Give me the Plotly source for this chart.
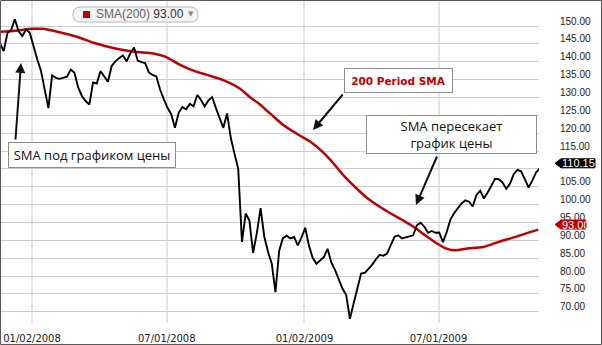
import pandas as pd
import plotly.graph_objects as go

# Close prices sampled every 5 calendar days from 2007-11-20
close = [
    145.1, 143.0, 148.0, 148.9, 151.9, 148.5, 147.2, 149.0, 148.1, 144.0,
    140.7, 137.5, 132.1, 127.0, 136.2, 135.5, 135.2, 135.6, 135.8, 137.8,
    136.9, 132.8, 130.4, 129.0, 128.0, 134.2, 133.9, 137.4, 135.7, 134.4,
    138.8, 140.1, 141.0, 141.8, 140.1, 142.3, 144.0, 140.3, 139.9, 139.6,
    137.0, 136.3, 135.9, 132.2, 129.5, 127.1, 125.3, 121.5, 125.7, 127.3,
    126.7, 128.2, 127.5, 130.7, 129.3, 127.5, 129.2, 130.1, 127.0, 124.1,
    121.5, 125.5, 118.7, 114.2, 110.0, 89.5, 97.5, 95.5, 86.5, 92.0,
    99.0, 91.0, 86.8, 83.5, 75.5, 87.1, 90.6, 91.3, 90.5, 90.9,
    88.6, 90.8, 93.5, 88.5, 85.1, 83.4, 84.4, 85.3, 87.6, 83.8,
    81.7, 79.1, 76.5, 74.7, 68.0, 72.3, 76.9, 80.7, 80.9, 82.0,
    83.2, 84.7, 85.9, 85.7, 86.3, 88.7, 91.0, 91.4, 90.5, 90.8,
    91.1, 91.4, 94.2, 94.9, 93.8, 92.1, 92.6, 92.1, 92.2, 89.5,
    92.3, 95.8, 97.6, 98.9, 100.3, 101.2, 100.8, 99.5, 102.7, 103.9,
    101.7, 103.4, 105.1, 107.2, 107.1, 106.2, 104.4, 105.8, 108.5, 109.7,
    109.3, 107.2, 104.8, 106.7, 109.0, 110.15,
]
close_dates = pd.date_range("2007-11-20", periods=len(close), freq="5D")

# 200-period simple moving average
sma_dates = [
    "2007-11-20", "2007-12-10", "2008-01-02", "2008-01-16", "2008-02-05",
    "2008-03-02", "2008-03-28", "2008-04-23", "2008-05-19", "2008-06-13",
    "2008-06-29", "2008-07-19", "2008-08-03", "2008-08-24", "2008-09-14",
    "2008-10-07", "2008-10-20", "2008-11-04", "2008-11-19", "2008-12-05",
    "2008-12-26", "2009-01-10", "2009-01-26", "2009-02-10", "2009-02-25",
    "2009-03-13", "2009-03-28", "2009-04-13", "2009-04-28", "2009-05-14",
    "2009-05-29", "2009-06-13", "2009-06-29", "2009-07-09", "2009-07-22",
    "2009-08-09", "2009-08-30", "2009-09-19", "2009-10-10", "2009-10-31",
    "2009-11-12",
]
sma = [
    148.4, 148.7, 149.2, 149.2, 148.4, 147.0, 145.1, 143.7, 142.8, 142.3,
    141.4, 139.1, 137.7, 136.3, 134.9, 132.5, 130.2, 127.9, 125.1, 122.2,
    119.4, 117.6, 114.8, 111.5, 107.8, 104.5, 101.7, 99.4, 97.5, 95.6,
    93.7, 91.4, 89.1, 87.9, 87.2, 87.7, 88.1, 89.5, 90.8, 92.2,
    93.00,
]

date_ticks = ["2008-01-02", "2008-07-01", "2009-01-02", "2009-07-01"]
date_labels = ["01/02/2008", "07/01/2008", "01/02/2009", "07/01/2009"]
price_ticks = list(range(70, 151, 5))

last_close = close[-1]
last_sma = sma[-1]

# the 110.00 label sits under the last-price tag
price_labels = ["" if v == 110 else f"{v:.2f}" for v in price_ticks]

W, H = 602, 345
ML, MR, MT, MB = 0, 63, 0, 22
PW, PH = W - ML - MR, H - MT - MB

RED = "#c00000"

fig = go.Figure()
fig.add_trace(go.Scatter(
    x=sma_dates, y=sma, mode="lines",
    line=dict(color=RED, width=2.5, shape="spline", smoothing=0.8),
    hoverinfo="skip",
))
fig.add_trace(go.Scatter(
    x=close_dates, y=close, mode="lines",
    line=dict(color="#000000", width=1.9),
    hoverinfo="skip",
))


def px_x(px):
    return (px - ML) / PW


def px_y(py):
    return 1 - (py - MT) / PH


shapes = []
annotations = []

# outer frame
shapes.append(dict(
    type="rect", xref="paper", yref="paper", xsizemode="pixel", ysizemode="pixel",
    xanchor=0, yanchor=1, x0=0.5, x1=W - 0.5, y0=-0.5, y1=-(H - 0.5),
    line=dict(color="#5a5a5a", width=1), fillcolor="rgba(0,0,0,0)", layer="above",
))


# price tags on the right axis
def price_tag(value, color, text, right):
    shapes.append(dict(
        type="path", xref="paper", yref="y", xsizemode="pixel", ysizemode="pixel",
        xanchor=1, yanchor=value,
        path=f"M16,5 L22,9.5 L{right},9.5 L{right},0.5 L22,0.5 Z",
        fillcolor=color, line=dict(color=color, width=1), layer="above",
    ))
    annotations.append(dict(
        x=1, y=value, xref="paper", yref="y", xanchor="left", yanchor="middle",
        xshift=21, yshift=5, text=text, showarrow=False,
        font=dict(family="Liberation Sans", size=11, color="#ffffff"),
    ))


price_tag(last_close, "#000000", f"{last_close:.2f}", 56)
price_tag(last_sma, RED, f"{last_sma:.2f}", 47)

# indicator pill at the top
shapes.append(dict(
    type="path", xref="paper", yref="paper", xsizemode="pixel", ysizemode="pixel",
    xanchor=0, yanchor=1,
    path="M80.5,-7 L190.5,-7 Q198,-7 198,-14.5 Q198,-22 190.5,-22 L80.5,-22 Q73,-22 73,-14.5 Q73,-7 80.5,-7 Z",
    fillcolor="#f4f4f4", line=dict(color="#b8b8b8", width=1), layer="above",
))
shapes.append(dict(
    type="rect", xref="paper", yref="paper", xsizemode="pixel", ysizemode="pixel",
    xanchor=0, yanchor=1, x0=83, x1=90, y0=-11, y1=-18,
    fillcolor=RED, line=dict(width=0), layer="above",
))
annotations.append(dict(
    x=px_x(94), y=px_y(14.5), xref="paper", yref="paper", xanchor="left", yanchor="middle",
    text=f"<span style='color:#666666'>SMA(200)</span> {last_sma:.2f}", showarrow=False,
    font=dict(family="Liberation Sans", size=12, color="#333333"),
))
annotations.append(dict(
    x=px_x(191), y=px_y(14.5), xref="paper", yref="paper", xanchor="center", yanchor="middle",
    text="▼", showarrow=False, font=dict(family="DejaVu Sans", size=7, color="#888888"),
))


# callout boxes
def callout(cx, cy, w, h, text, font):
    annotations.append(dict(
        x=px_x(cx), y=px_y(cy), xref="paper", yref="paper", xanchor="center", yanchor="middle",
        text=text, showarrow=False, width=w - 2, height=h - 2, align="center", valign="middle",
        bgcolor="#ffffff", bordercolor="#8c8c8c", borderwidth=1, borderpad=0, font=font,
    ))


def arrow(tx, ty, hx, hy):
    annotations.append(dict(
        x=px_x(hx), y=px_y(hy), xref="paper", yref="paper", ax=tx - hx, ay=ty - hy,
        text="", showarrow=True, arrowhead=2, arrowsize=1, arrowwidth=2,
        arrowcolor="#111111", font=dict(size=1), standoff=0, startstandoff=0,
    ))


body_font = dict(family="Open Sans", size=13, color="#111111")
callout(92.2, 154.5, 168, 26, "SMA под графиком цены", body_font)
callout(398.5, 80.3, 109, 25, "<b>200 Period SMA</b>",
        dict(family="DejaVu Sans", size=10.5, color=RED))
callout(451.5, 135, 171, 39, "SMA пересекает<br>график цены", body_font)

arrow(15.4, 141, 21, 63)
arrow(344, 93, 313, 130)
arrow(437.6, 155, 416, 205)

fig.update_layout(
    width=W, height=H,
    margin=dict(l=ML, r=MR, t=MT, b=MB),
    paper_bgcolor="#ffffff", plot_bgcolor="#ffffff",
    showlegend=False, hovermode=False,
    shapes=shapes, annotations=annotations,
    xaxis=dict(
        type="date", range=["2007-11-20", "2009-11-13"],
        tickvals=date_ticks, ticktext=date_labels,
        showgrid=True, gridcolor="#e4e4e4", gridwidth=2,
        zeroline=False, showline=False, ticks="", ticklabelstandoff=8,
        tickfont=dict(family="DejaVu Sans", size=10, color="#222222"),
    ),
    yaxis=dict(
        side="right", range=[66.84, 157.28],
        tickvals=price_ticks, ticktext=price_labels,
        showgrid=True, gridcolor="#cdcdcd", gridwidth=1,
        zeroline=False, showline=False, ticks="", ticklabelstandoff=20,
        ticklabelshift=-5,
        tickfont=dict(family="Liberation Sans", size=10, color="#222222"),
    ),
)

fig.write_html("out.html")
